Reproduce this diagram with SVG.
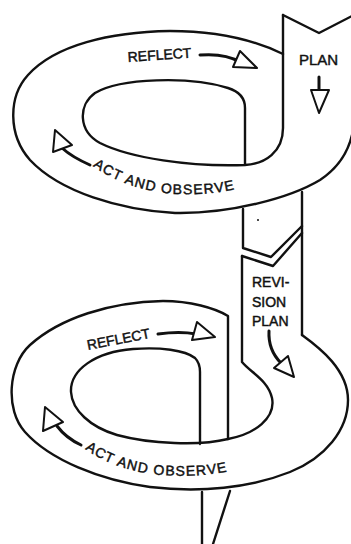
<svg xmlns="http://www.w3.org/2000/svg" width="351" height="544" viewBox="0 0 351 544">
<style>
.ln{fill:none;stroke:#111;stroke-width:2.4;stroke-linecap:round;stroke-linejoin:round}
.sh{fill:none;stroke:#111;stroke-width:3;stroke-linecap:round}
.ah{fill:#fff;stroke:#111;stroke-width:2;stroke-linejoin:round}
.t{font-family:"Liberation Sans","DejaVu Sans",sans-serif;font-size:14px;fill:#111;stroke:#111;stroke-width:0.45}
</style>
<defs>
<path id="p1" d="M 93,166 C 115,182 145,192 175,194 C 205,195 225,192 245,187"/>
<path id="p2" d="M 85,449 C 105,463 130,472 160,475 C 190,477 215,475 238,469"/>
</defs>
<rect width="351" height="544" fill="#fff"/>
<g id="top-loop">
<path class="ln" d="M 283,54 C 250,38 210,31 170,31 C 110,32 55,45 28,75 C 8,97 8,135 30,160 C 60,192 120,210 175,213 C 230,214 290,198 320,180 C 338,168 348,152 352,135"/>
<path class="ln" d="M 283,15 V 128 C 283,152 265,164 245,165 C 190,167 130,158 100,143 C 78,131 78,105 95,93 C 120,78 190,76 228,88 C 241,92 245,100 245,108 V 165"/>
<path class="ln" d="M 283,15 L 319,33 L 352,16"/>
</g>
<g id="middle-strip">
<path class="ln" d="M 243,209 V 248 L 271,257 L 302,226"/>
<path class="ln" d="M 302,192 V 335"/>
<path class="ln" d="M 242,256 L 273,266 L 302,233"/>
<circle cx="258" cy="220" r="1" fill="#111"/>
</g>
<g id="bottom-loop">
<path class="ln" d="M 242,256 V 362 C 250,372 268,380 272,398 C 276,418 255,434 228,439 C 200,446 150,444 117,435 C 90,427 72,410 71,392 C 70,370 95,352 133,349 C 160,347 185,350 195,358 C 199,362 200,366 200,372 V 444"/>
<path class="ln" d="M 228,439 V 316 C 215,308 190,301 163,301 C 110,302 60,318 30,345 C 8,365 5,410 25,432 C 50,460 100,480 150,487 C 200,493 250,488 290,472 C 325,458 348,430 348,400 C 348,370 320,348 302,335"/>
<path class="ln" d="M 202,492 V 544"/>
<path class="ln" d="M 230,491 L 213,544"/>
</g>
<g id="connectors">
<path class="sh" d="M 200,55 Q 225,53 240,62"/>
<path class="ah" d="M 240,51 L 257,68 L 233,67 Z"/>
<path class="sh" d="M 319,77 V 95"/>
<path class="ah" d="M 311,90 L 329,90 L 319,113 Z"/>
<path class="sh" d="M 90,165 Q 72,157 62,148"/>
<path class="ah" d="M 55,130 L 72,145 L 53,152 Z"/>
<path class="sh" d="M 158,334 Q 180,331 196,334"/>
<path class="ah" d="M 197,322 L 215,337 L 192,340 Z"/>
<path class="sh" d="M 269,331 Q 268,350 281,363"/>
<path class="ah" d="M 288,356 L 294,377 L 274,368 Z"/>
<path class="sh" d="M 81,445 Q 66,438 57,426"/>
<path class="ah" d="M 45,407 L 63,422 L 43,431 Z"/>
</g>
<g id="labels">
<text class="t" x="128" y="62" transform="rotate(-4 128 62)">REFLECT</text>
<text class="t" x="299" y="65" style="font-size:15px">PLAN</text>
<text class="t" letter-spacing="1.1"><textPath href="#p1">ACT AND OBSERVE</textPath></text>
<text class="t" x="88" y="350" transform="rotate(-11 88 350)">REFLECT</text>
<text class="t" x="252" y="287">REVI-</text>
<text class="t" x="252" y="307">SION</text>
<text class="t" x="252" y="326">PLAN</text>
<text class="t" letter-spacing="1.1"><textPath href="#p2">ACT AND OBSERVE</textPath></text>
</g>
</svg>
